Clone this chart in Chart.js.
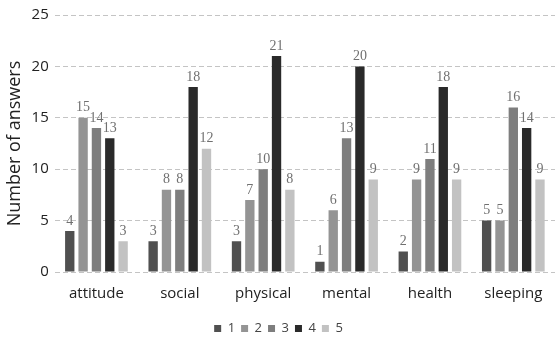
<!DOCTYPE html>
<html>
<head>
<meta charset="utf-8">
<script src="https://cdn.jsdelivr.net/npm/chart.js@4/dist/chart.umd.min.js"></script>
<style>
  html, body { margin: 0; padding: 0; background: #fff; }
  #wrap { width: 555px; height: 338px; }
</style>
</head>
<body>
<div id="wrap"><canvas id="chart"></canvas></div>
<script>
const categories = ['attitude', 'social', 'physical', 'mental', 'health', 'sleeping'];
const seriesNames = ['1', '2', '3', '4', '5'];
const series1 = [4, 3, 3, 1, 2, 5];
const series2 = [15, 8, 7, 6, 9, 5];
const series3 = [14, 8, 10, 13, 11, 16];
const series4 = [13, 18, 21, 20, 18, 14];
const series5 = [3, 12, 8, 9, 9, 9];
const yTicks = [0, 5, 10, 15, 20, 25];

const colors = ['#505050', '#949494', '#7e7e7e', '#2a2a2a', '#c2c2c2'];
const allSeries = [series1, series2, series3, series4, series5];

// draws the value above each bar
const valueLabels = {
    id: 'valueLabels',
    afterDatasetsDraw(chart) {
        const ctx = chart.ctx;
        ctx.save();
        ctx.font = '14px "Liberation Serif", serif';
        ctx.fillStyle = '#707070';
        ctx.textAlign = 'center';
        ctx.textBaseline = 'bottom';
        chart.data.datasets.forEach((ds, i) => {
            chart.getDatasetMeta(i).data.forEach((bar, j) => {
                ctx.fillText(ds.data[j], bar.x, bar.y - 3);
            });
        });
        ctx.restore();
    }
};

new Chart(document.getElementById('chart'), {
    type: 'bar',
    data: {
        labels: categories,
        datasets: allSeries.map((data, i) => ({
            label: seriesNames[i],
            data: data,
            backgroundColor: colors[i],
            barPercentage: 0.7,
            categoryPercentage: 0.8
        }))
    },
    options: {
        responsive: true,
        maintainAspectRatio: false,
        animation: false,
        layout: { padding: { top: 0, right: 0, left: 2, bottom: -7 } },
        plugins: {
            legend: {
                position: 'bottom',
                labels: {
                    boxWidth: 7,
                    boxHeight: 7,
                    padding: 6,
                    color: '#444',
                    font: { family: '"Open Sans", sans-serif', size: 13 }
                }
            },
            tooltip: { enabled: false }
        },
        scales: {
            x: {
                grid: { display: false },
                border: { display: false },
                afterFit: axis => { axis.height += 8; },
                ticks: {
                    color: '#222',
                    font: { family: '"Open Sans", sans-serif', size: 15 },
                    padding: 5
                }
            },
            y: {
                min: 0,
                max: 25,
                afterBuildTicks: axis => { axis.ticks = yTicks.map(v => ({ value: v })); },
                grid: { color: '#c4c4c4', drawTicks: false },
                border: { display: false, dash: [5, 3] },
                ticks: {
                    color: '#222',
                    font: { family: '"Open Sans", sans-serif', size: 15 },
                    padding: 6
                },
                title: {
                    display: true,
                    text: 'Number of answers',
                    color: '#222',
                    padding: { top: 2, bottom: 0 },
                    font: { family: '"Open Sans", sans-serif', size: 18 }
                }
            }
        }
    },
    plugins: [valueLabels]
});
</script>
</body>
</html>
